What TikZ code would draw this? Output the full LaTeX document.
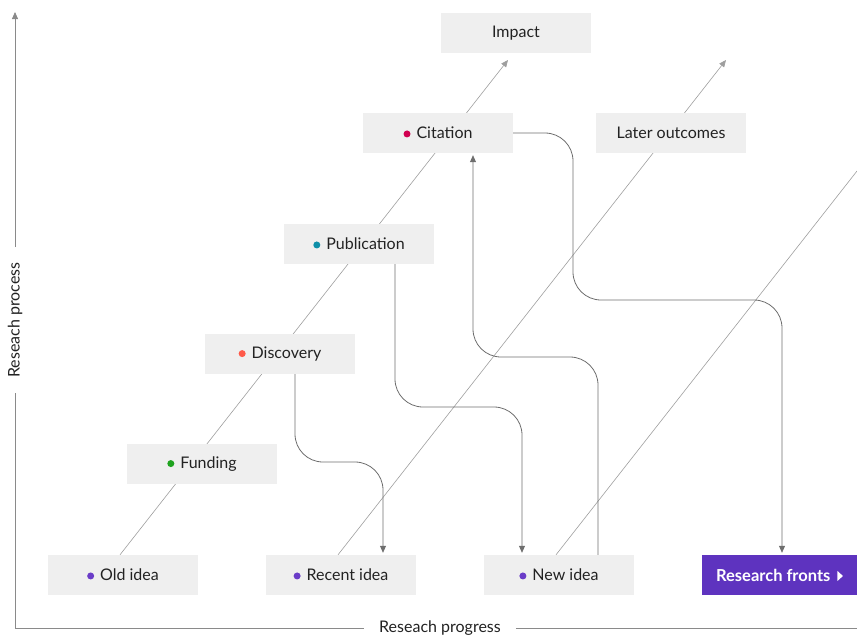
\documentclass[tikz,border=0pt]{standalone}
\usepackage{fontspec}
\setmainfont{Lato}
\usetikzlibrary{arrows.meta,backgrounds}

\definecolor{boxgray}{HTML}{EFEFEF}
\definecolor{textdark}{HTML}{222222}
\definecolor{trailgray}{HTML}{9E9E9E}
\definecolor{flowgray}{HTML}{6E6E6E}
\definecolor{axisgray}{HTML}{8A8A8A}
\definecolor{frontcol}{HTML}{5E33BF}
\definecolor{ideacol}{HTML}{6A3CC8}
\definecolor{citecol}{HTML}{D10050}
\definecolor{pubcol}{HTML}{0E8FA8}
\definecolor{disccol}{HTML}{FF5A4A}
\definecolor{fundcol}{HTML}{1FA31F}

\newcommand{\stagedot}[1]{\tikz[baseline=-0.6ex]\fill[#1] (0pt,0pt) circle (3.5pt);\hspace{6pt}}
\newcommand{\frontarrow}{\tikz[baseline=-0.6ex]\fill[white] (0pt,-5pt) -- (5.5pt,0pt) -- (0pt,5pt) -- cycle;}

\tikzset{
    stage/.style={fill=boxgray, minimum width=150pt, minimum height=40pt, inner sep=0pt, text=textdark, font=\fontsize{16}{19}\selectfont},
    trail/.style={draw=trailgray, line width=0.6pt, -{Triangle[width=6pt,length=7pt]}},
    flow/.style={draw=flowgray, line width=0.8pt, rounded corners=28pt, shorten >=2pt, -{Triangle[width=6pt,length=7pt]}},
    axis/.style={draw=axisgray, line width=0.8pt},
    axislabel/.style={inner xsep=15pt, inner ysep=0pt, text=textdark, font=\fontsize{16}{19}\selectfont}
}

\begin{document}
\begin{tikzpicture}[x=1pt, y=-1pt]
    \useasboundingbox (0,0) rectangle (857,635);

    \node[stage] (impact) at (516,33) {Impact};
    \node[stage] (cit) at (438,133) {\stagedot{citecol}Citation};
    \node[stage] (later) at (671,133) {Later outcomes};
    \node[stage] (pub) at (359,244) {\stagedot{pubcol}Publication};
    \node[stage] (disc) at (280,354) {\stagedot{disccol}Discovery};
    \node[stage] (fund) at (202,464) {\stagedot{fundcol}Funding};
    \node[stage] (old) at (123,575) {\stagedot{ideacol}Old idea};
    \node[stage] (recent) at (341,575) {\stagedot{ideacol}Recent idea};
    \node[stage] (new) at (559,575) {\stagedot{ideacol}New idea};
    \node[stage, fill=frontcol, text=white, minimum width=155pt, font=\fontsize{16.5}{19}\selectfont\bfseries] (fronts) at (779.5,575) {Research fronts\hspace{7pt}\frontarrow};

    \coordinate (oldtip) at (508,60);
    \coordinate (recenttip) at (726,60);
    \coordinate (newtip) at (857,171);

    \begin{scope}[on background layer]
        \draw[trail] ([xshift=-3pt]old.north) -- (oldtip);
        \draw[trail] ([xshift=-3pt]recent.north) -- (recenttip);
        \draw[trail, -] ([xshift=-3pt]new.north) -- (newtip);
    \end{scope}

    \draw[flow] ([xshift=15pt]disc.south) |- (383,462) -- ([xshift=42pt]recent.north);
    \draw[flow] ([xshift=36pt]pub.south) |- (522,407) -- ([xshift=-37pt]new.north);
    \draw[flow] ([xshift=39pt]new.north) |- (473,357) -- ([xshift=35pt]cit.south);
    \draw[flow] (cit.east) -| (573,300) -| ([xshift=2.5pt]fronts.north);

    \coordinate (origin) at (15,628);
    \coordinate (ytop) at (15,12);
    \coordinate (xend) at (857,628);
    \node[axislabel, rotate=90] (ylab) at (15,320) {Reseach process};
    \node[axislabel] (xlab) at (440,628) {Reseach progress};

    \draw[axis] (origin) -- (ylab.west);
    \draw[axis, -{Triangle[width=6pt,length=7pt]}] (ylab.east) -- (ytop);
    \draw[axis] (origin) -- (xlab.west);
    \draw[axis] (xlab.east) -- (xend);
\end{tikzpicture}
\end{document}
